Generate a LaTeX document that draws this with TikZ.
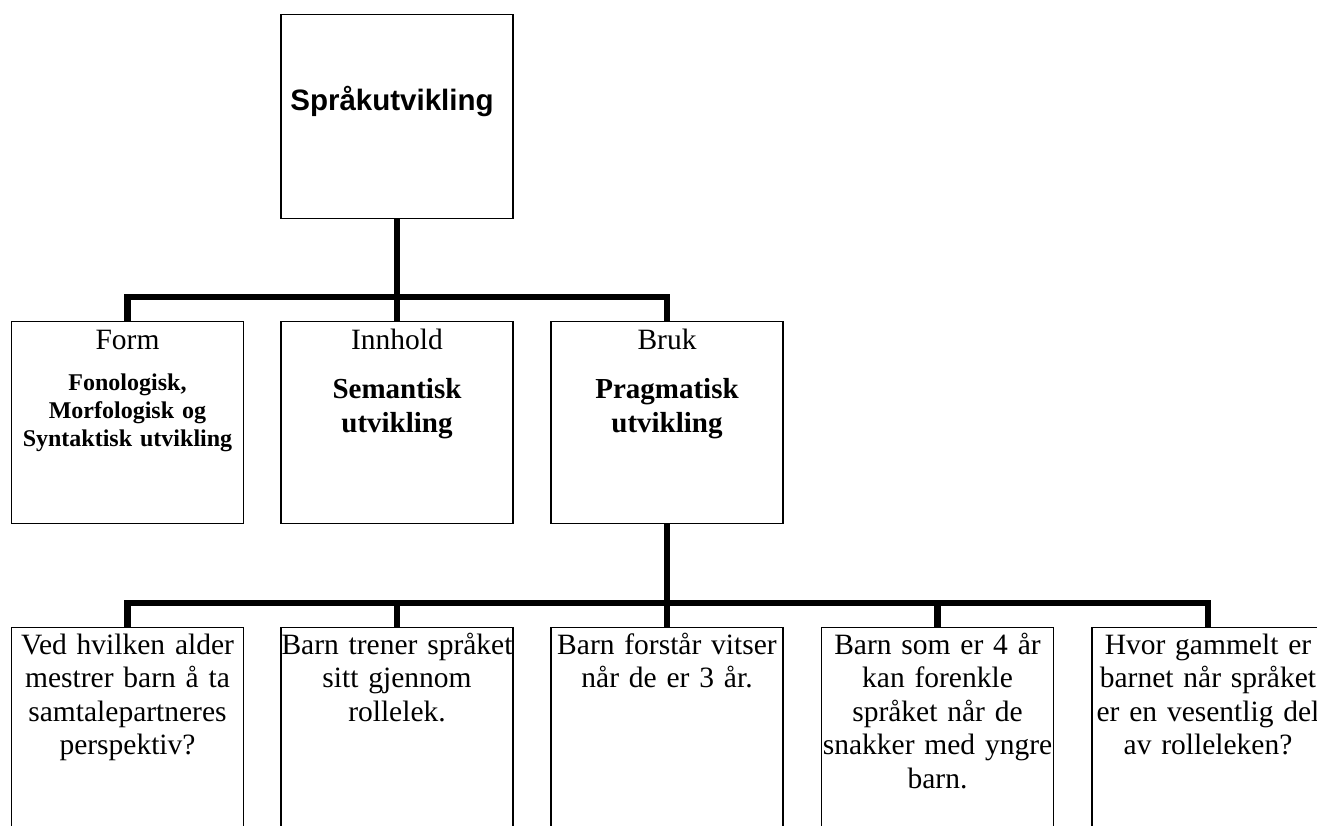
\documentclass[tikz,border=0pt]{standalone}
\usepackage{fontspec}
\setmainfont{Liberation Serif}
\newfontfamily\arialfont{Liberation Sans}
\begin{document}
\begin{tikzpicture}[x=1pt,y=-1pt,
  box/.style={draw=black, line width=1.3pt, minimum width=232pt, inner sep=0pt, anchor=north},
  conn/.style={draw=black, line width=6.5pt},
  txt/.style={anchor=base, inner sep=0pt, text width=234pt, align=center},
  big/.style={font=\fontsize{29.5}{33.5}\selectfont},
  bigb/.style={font=\bfseries\fontsize{29}{34}\selectfont},
  smallb/.style={font=\bfseries\fontsize{24}{28}\selectfont}]
\useasboundingbox (0,0) rectangle (1317,825);
\clip (0,0) rectangle (1317,825);
% level 1
\node[box, minimum height=204pt] (top) at (397,14) {};
\node[anchor=base, inner sep=0pt, font=\arialfont\bfseries\fontsize{29.5}{35}\selectfont] (toptxt) at (392,110) {Språkutvikling};
% level 2
\node[box, minimum height=202pt] (form) at (127.5,321) {};
\node[box, minimum height=202pt] (innhold) at (397,321) {};
\node[box, minimum height=202pt] (bruk) at (667,321) {};
\node[txt, big] (formt) at (127.5,349) {Form};
\node[txt, big] (innholdt) at (397,349) {Innhold};
\node[txt, big] (brukt) at (667,349) {Bruk};
\node[txt, smallb] (formb) at (127.5,390) {Fonologisk,\\Morfologisk og\\Syntaktisk utvikling};
\node[txt, bigb] (innholdb) at (397,398) {Semantisk\\utvikling};
\node[txt, bigb] (brukb) at (667,398) {Pragmatisk\\utvikling};
% level 3
\node[box, minimum height=240pt] (q1) at (127.5,627) {};
\node[box, minimum height=240pt] (q2) at (397,627) {};
\node[box, minimum height=240pt] (q3) at (667,627) {};
\node[box, minimum height=240pt] (q4) at (937.5,627) {};
\node[box, minimum height=240pt] (q5) at (1208,627) {};
\node[txt, big] (q1t) at (127.5,654) {Ved hvilken alder\\mestrer barn å ta\\samtalepartneres\\perspektiv?};
\node[txt, big] (q2t) at (397,654) {Barn trener språket\\sitt gjennom\\rollelek.};
\node[txt, big] (q3t) at (667,654) {Barn forstår vitser\\når de er 3 år.};
\node[txt, big] (q4t) at (937.5,654) {Barn som er 4 år\\kan forenkle\\språket når de\\snakker med yngre\\barn.};
\node[txt, big] (q5t) at (1208,654) {Hvor gammelt er\\barnet når språket\\er en vesentlig del\\av rolleleken?};
% connectors
\coordinate (j1) at (397,297);
\coordinate (j2) at (667,603);
\draw[conn] (top.south) -- (innhold.north);
\draw[conn] (form.north) |- (j1) -| (bruk.north);
\draw[conn] (bruk.south) -- (q3.north);
\draw[conn] (q1.north) |- (j2) -| (q5.north);
\draw[conn] (q2.north) -- (q2.north |- j2);
\draw[conn] (q4.north) -- (q4.north |- j2);
\end{tikzpicture}
\end{document}
